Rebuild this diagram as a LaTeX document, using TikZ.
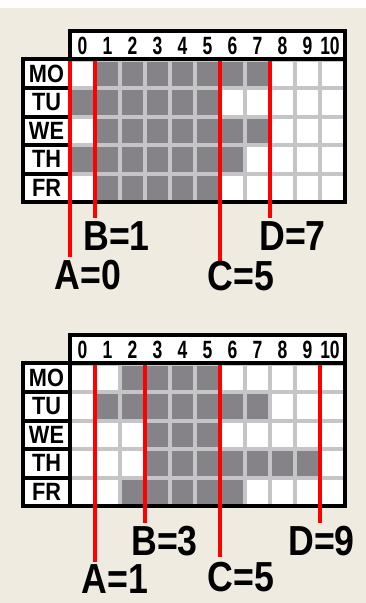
\documentclass[tikz,border=0pt]{standalone}
\usepackage{fontspec}
\setmainfont{Liberation Sans}
\definecolor{bg}{HTML}{EFEBE1}
\definecolor{cellon}{HTML}{858387}
\definecolor{gridln}{HTML}{C5C4C7}
\definecolor{redln}{HTML}{FF0000}
\newcommand\hx[1]{\scalebox{0.7}[1]{#1}}
\newcommand\dx[1]{\scalebox{0.87}[1]{#1}}
\newcommand\lx[1]{\scalebox{0.85}[1]{#1}}
\tikzset{
  hdr/.style={font=\fontsize{25}{25}\selectfont\bfseries, inner sep=0pt},
  dayname/.style={font=\fontsize{25}{25}\selectfont\bfseries, inner sep=0pt},
  lab/.style={font=\fontsize{42}{42}\selectfont\bfseries, inner sep=0pt},
  marker/.style={draw=redln, line width=4pt},
  frame/.style={draw=black, line width=4pt},
  cellon/.style={fill=cellon},
}
% shared structure of one panel; #1 = name prefix
\newcommand\panelbase[1]{%
  \fill[white] (68,29) rectangle (347,61);
  \fill[white] (21,57) rectangle (72,204);
  \fill[gridln] (72,61) rectangle (343,200);
  \foreach \j in {0,...,4}{
    \foreach \i in {0,...,10}{
      \fill[white] ({72+25*\i},{61.5+28.5*\j}) rectangle ++(21,24.5);
    }
  }
}
\newcommand\panelframe[1]{%
  \draw[frame] (70,31) rectangle (345,59);
  \draw[frame] (70,59) rectangle (345,202);
  \draw[frame] (23,59) rectangle (70,202);
  \foreach \y in {88,116.5,145,173.5}{
    \draw[frame] (21,\y) -- (70,\y);
  }
  \foreach \i in {0,...,9}{
    \node[hdr] (#1h\i) at ({82.5+25*\i},46) {\hx{\i}};
  }
  \node[hdr] (#1h10) at (330,46) {\hx{10}};
  \foreach \d [count=\j from 0] in {MO,TU,WE,TH,FR}{
    \node[dayname] (#1d\j) at (46.5,{73.75+28.5*\j}) {\dx{\d}};
  }
}
\begin{document}
\begin{tikzpicture}[x=1pt,y=-1pt]
\useasboundingbox (0,0) rectangle (366,603);
\fill[bg] (0,0) rectangle (366,603);
\fill[white] (0,0) rectangle (366,8);

% ---------- panel 1 ----------
\begin{scope}
  \panelbase{p}
  \foreach \j/\a/\b in {0/1/7,1/0/5,2/1/7,3/0/6,4/1/5}{
    \foreach \i in {\a,...,\b}{
      \fill[cellon] ({72+25*\i},{61.5+28.5*\j}) rectangle ++(21,24.5);
    }
  }
  \panelframe{p}
  \coordinate (pAt) at (70,61);  \coordinate (pAb) at (70,257);
  \coordinate (pBt) at (95,61);  \coordinate (pBb) at (95,218);
  \coordinate (pCt) at (220,61); \coordinate (pCb) at (220,262);
  \coordinate (pDt) at (270,61); \coordinate (pDb) at (270,218);
  \draw[marker] (pAt) -- (pAb);
  \draw[marker] (pBt) -- (pBb);
  \draw[marker] (pCt) -- (pCb);
  \draw[marker] (pDt) -- (pDb);
  \node[lab] (pB) at (116.5,236.5) {\lx{B=1}};
  \node[lab] (pD) at (292.5,236.5) {\lx{D=7}};
  \node[lab] (pA) at (88,275) {\lx{A=0}};
  \node[lab] (pC) at (241,276) {\lx{C=5}};
\end{scope}

% ---------- panel 2 ----------
\begin{scope}[yshift=-304pt]
  \panelbase{q}
  \foreach \j/\a/\b in {0/2/5,1/1/7,2/3/5,3/3/9,4/2/6}{
    \foreach \i in {\a,...,\b}{
      \fill[cellon] ({72+25*\i},{61.5+28.5*\j}) rectangle ++(21,24.5);
    }
  }
  \panelframe{q}
  \coordinate (qAt) at (95,61);  \coordinate (qAb) at (95,258);
  \coordinate (qBt) at (145,61); \coordinate (qBb) at (145,219);
  \coordinate (qCt) at (220,61); \coordinate (qCb) at (220,253);
  \coordinate (qDt) at (320,61); \coordinate (qDb) at (320,219);
  \draw[marker] (qAt) -- (qAb);
  \draw[marker] (qBt) -- (qBb);
  \draw[marker] (qCt) -- (qCb);
  \draw[marker] (qDt) -- (qDb);
  \node[lab] (qB) at (164.5,237) {\lx{B=3}};
  \node[lab] (qD) at (321.5,237) {\lx{D=9}};
  \node[lab] (qA) at (115,275) {\lx{A=1}};
  \node[lab] (qC) at (241,273) {\lx{C=5}};
\end{scope}
\end{tikzpicture}
\end{document}
